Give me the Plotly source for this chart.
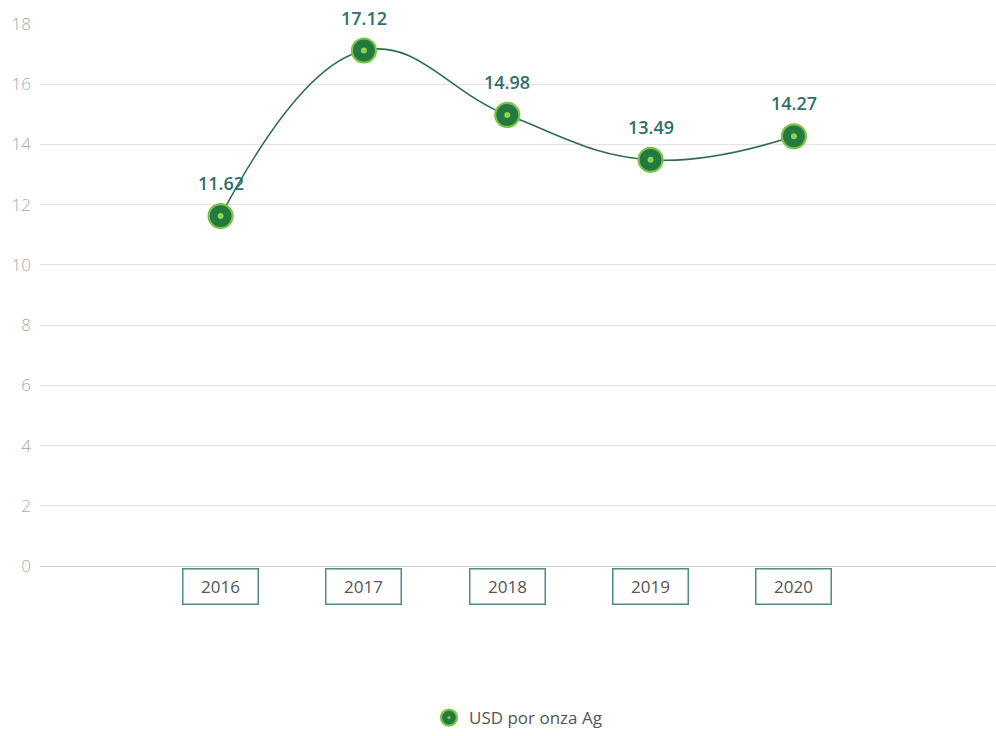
import plotly.graph_objects as go

# Silver price per troy ounce, yearly average
years = ["2016", "2017", "2018", "2019", "2020"]
prices = [11.62, 17.12, 14.98, 13.49, 14.27]
value_labels = ["11.62", "17.12", "14.98", "13.49", "14.27"]
y_ticks = [0, 2, 4, 6, 8, 10, 12, 14, 16, 18]
series_name = "USD por onza Ag"

LINE_COLOR = "#2f6b58"
MARK_FILL = "#237a3e"
MARK_RING = "#7cc24a"
DOT_COLOR = "#86d450"
LABEL_COLOR = "#2f6f6b"

fig = go.Figure()

# smooth connecting curve
fig.add_trace(go.Scatter(
    x=years, y=prices, mode="lines",
    line=dict(color=LINE_COLOR, width=1.6, shape="spline", smoothing=1.2),
    showlegend=False, hoverinfo="skip",
))

# ringed markers
fig.add_trace(go.Scatter(
    x=years, y=prices, mode="markers",
    name=series_name,
    marker=dict(symbol="circle-dot", size=24, color=MARK_FILL,
                line=dict(color=MARK_RING, width=2.2)),
    cliponaxis=False,
))

# bright centre dot of each marker
fig.add_trace(go.Scatter(
    x=years, y=prices, mode="markers",
    marker=dict(symbol="circle", size=6, color=DOT_COLOR, line=dict(width=0)),
    showlegend=False, hoverinfo="skip", cliponaxis=False,
))

# value labels above each point
for i, (val, lbl) in enumerate(zip(prices, value_labels)):
    fig.add_annotation(
        x=i, y=val, xref="x", yref="y", text=lbl, showarrow=False,
        yshift=33, font=dict(family="Open Sans", size=18, color=LABEL_COLOR,
                             weight=600),
    )

# boxed year labels under the baseline
for i, yr in enumerate(years):
    fig.add_annotation(
        x=i, y=0, xref="x", yref="paper", yanchor="middle", yshift=-20,
        text=yr, showarrow=False,
        font=dict(family="Open Sans", size=17, color="#555555"),
        width=70, height=30, borderpad=2, borderwidth=1.5,
        bordercolor="#4f8c84", bgcolor="white",
    )

fig.update_layout(
    width=996, height=736,
    margin=dict(l=40, r=0, t=24, b=170),
    paper_bgcolor="white", plot_bgcolor="white",
    font=dict(family="Open Sans"),
    xaxis=dict(type="category", range=[-1.26, 5.41], showticklabels=False,
               showgrid=False, zeroline=False, showline=False, ticks=""),
    yaxis=dict(range=[0, 18], tickvals=y_ticks, showgrid=True,
               gridcolor="#e4e4e4", gridwidth=1, zeroline=True,
               zerolinecolor="#d0d0d0", zerolinewidth=1, showline=False,
               tickfont=dict(family="Open Sans", size=17, color="#a8a8a8",
                             weight=300),
               ticks="", ticklabelstandoff=8),
    legend=dict(orientation="h", x=0.5, xanchor="center",
                y=-(718 - 566) / 542, yanchor="middle",
                font=dict(family="Open Sans", size=17, color="#555555")),
    showlegend=True,
)

fig.write_html("out.html")
